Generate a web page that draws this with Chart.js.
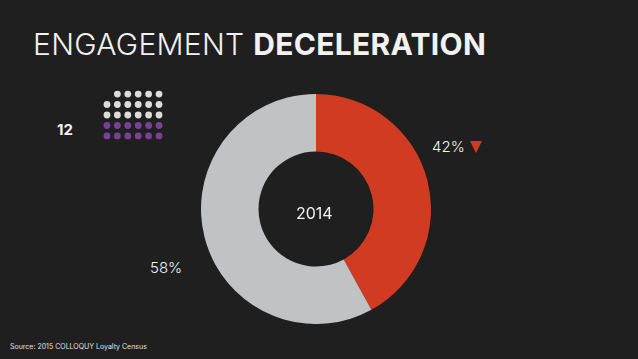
<!DOCTYPE html>
<html>
<head>
<meta charset="utf-8">
<script src="https://cdn.jsdelivr.net/npm/chart.js@4"></script>
<style>
  html, body { margin: 0; padding: 0; }
  body { width: 638px; height: 359px; background: #1f1f1f; position: relative; overflow: hidden; font-family: Inter, sans-serif; color: #f2f2f2; }
  .abs { position: absolute; white-space: nowrap; }
  #title { left: 33px; top: 26px; font-size: 30px; font-weight: 300; letter-spacing: 0.3px; line-height: 36px; }
  #title b { font-weight: 700; }
  #donutBox { left: 201px; top: 94px; width: 230px; height: 230px; }
  #dotChart { position: absolute; left: 100px; top: 87px; }
  .lbl { font-size: 15px; font-weight: 300; line-height: 18px; }
  #lbl42 { left: 432px; top: 138px; }
  #tri { left: 470px; top: 141px; width: 0; height: 0; border-left: 6px solid transparent; border-right: 6px solid transparent; border-top: 12px solid #d13b21; }
  #lbl58 { left: 150px; top: 259px; }
  #lbl2014 { left: 296px; top: 203px; font-size: 16px; }
  #lbl12 { left: 57px; top: 120px; font-size: 15px; font-weight: 700; }
  #source { left: 10px; top: 342px; font-size: 7px; color: #e0e0e0; }
</style>
</head>
<body>
<div id="title" class="abs">ENGAGEMENT <b>DECELERATION</b></div>
<canvas id="dotChart" width="66" height="56"></canvas>
<div id="lbl12" class="abs">12</div>
<div id="donutBox" class="abs"><canvas id="donutChart"></canvas></div>
<div id="lbl2014" class="abs">2014</div>
<div id="lbl42" class="abs lbl">42%</div>
<div id="tri" class="abs"></div>
<div id="lbl58" class="abs lbl">58%</div>
<div id="source" class="abs">Source: 2015 COLLOQUY Loyalty Census</div>

<script>
// donut: share of engagement, 2014
const sliceLabels = ["Declined", "Other"];
const sliceValues = [42, 58];
const sliceColors = ["#d13b21", "#c1c2c4"];

// dot pictogram: 6 columns x 5 rows, one empty slot top-left
const gridCols = 6;
const gridRows = 5;
const whiteDots = 17;
const purpleDots = 12;

new Chart(document.getElementById("donutChart"), {
  type: "doughnut",
  data: {
    labels: sliceLabels,
    datasets: [{
      data: sliceValues,
      backgroundColor: sliceColors,
      borderWidth: 0,
    }],
  },
  options: {
    responsive: true,
    maintainAspectRatio: false,
    animation: false,
    cutout: "50%",
    layout: { padding: 0 },
    plugins: { legend: { display: false }, tooltip: { enabled: false } },
  },
});

// fill the grid from the bottom-right: purple first, then white
const whitePts = [];
const purplePts = [];
let n = 0;
for (let r = gridRows - 1; r >= 0; r--) {
  for (let c = gridCols - 1; c >= 0; c--) {
    if (n < purpleDots) purplePts.push({ x: c, y: r });
    else if (n < purpleDots + whiteDots) whitePts.push({ x: c, y: r });
    n++;
  }
}

new Chart(document.getElementById("dotChart"), {
  type: "scatter",
  data: {
    datasets: [
      { data: whitePts, backgroundColor: "#dcdcdc", borderWidth: 0, pointRadius: 3.4 },
      { data: purplePts, backgroundColor: "#7b3f98", borderWidth: 0, pointRadius: 3.4 },
    ],
  },
  options: {
    responsive: false,
    animation: false,
    layout: { padding: 0, autoPadding: false },
    plugins: { legend: { display: false }, tooltip: { enabled: false } },
    scales: {
      x: { display: false, min: -0.67, max: gridCols - 0.33 },
      y: { display: false, min: -0.67, max: gridRows - 0.33, reverse: true },
    },
  },
});
</script>
</body>
</html>
